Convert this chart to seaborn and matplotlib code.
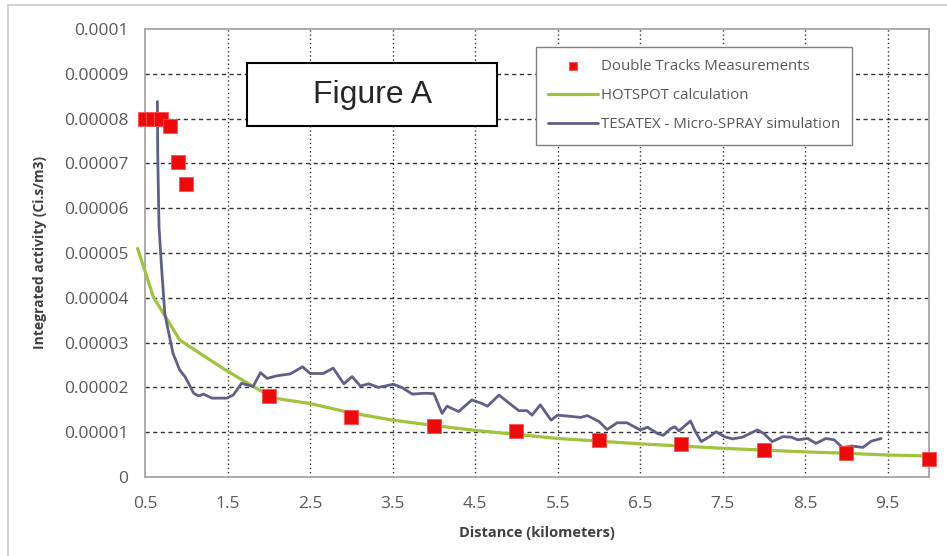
import matplotlib
matplotlib.use("Agg")
import matplotlib.pyplot as plt
import seaborn as sns
import pandas as pd
from matplotlib.patches import Rectangle

# measurements (Double Tracks)
meas_x = [0.5, 0.6, 0.7, 0.8, 0.9, 1.0, 2, 3, 4, 5, 6, 7, 8, 9, 10]
meas_y = [8.0, 8.0, 8.0, 7.83, 7.03, 6.54, 1.81, 1.33, 1.14, 1.03, 0.82, 0.73, 0.61, 0.54, 0.41]

# HOTSPOT calculation
hot_x = [0.41, 0.5, 0.6, 0.76, 0.92, 1.05, 1.29, 1.51, 1.81, 2.06, 2.5, 3.0, 3.5, 4.0,
         4.5, 5.0, 5.5, 6.0, 6.5, 7.0, 7.5, 8.0, 8.5, 9.0, 9.5, 10.0]
hot_y = [5.1, 4.6, 4.02, 3.54, 3.06, 2.9, 2.61, 2.35, 2.02, 1.76, 1.64, 1.43, 1.27, 1.15,
         1.04, 0.95, 0.86, 0.80, 0.74, 0.69, 0.64, 0.60, 0.56, 0.53, 0.49, 0.47]

# TESATEX - Micro-SPRAY simulation
tes_x = [0.65, 0.655, 0.67, 0.70, 0.74, 0.78, 0.84, 0.92, 0.985, 1.09, 1.15, 1.21, 1.31,
         1.49, 1.57, 1.67, 1.81, 1.90, 1.98, 2.10, 2.26, 2.41, 2.50, 2.66, 2.78, 2.91,
         3.01, 3.11, 3.21, 3.33, 3.51, 3.61, 3.74, 3.90, 4.00, 4.10, 4.16, 4.30, 4.46,
         4.57, 4.65, 4.79, 4.89, 5.03, 5.13, 5.19, 5.29, 5.42, 5.50, 5.62, 5.78, 5.86,
         6.00, 6.10, 6.22, 6.34, 6.50, 6.59, 6.71, 6.78, 6.87, 6.92, 6.97, 7.11, 7.17,
         7.24, 7.34, 7.42, 7.52, 7.62, 7.74, 7.82, 7.92, 8.00, 8.10, 8.23, 8.33, 8.41,
         8.53, 8.63, 8.75, 8.85, 8.95, 9.07, 9.20, 9.30, 9.42]
tes_y = [8.38, 7.14, 5.58, 4.7, 3.65, 3.28, 2.76, 2.39, 2.24, 1.87, 1.81, 1.85, 1.76,
         1.76, 1.83, 2.09, 2.02, 2.33, 2.20, 2.26, 2.30, 2.46, 2.31, 2.31, 2.43, 2.08,
         2.24, 2.03, 2.08, 2.00, 2.07, 2.00, 1.85, 1.87, 1.86, 1.42, 1.58, 1.46, 1.72,
         1.65, 1.58, 1.83, 1.68, 1.48, 1.48, 1.38, 1.61, 1.27, 1.38, 1.36, 1.33, 1.37,
         1.24, 1.06, 1.21, 1.21, 1.05, 1.11, 0.97, 0.93, 1.08, 1.12, 1.03, 1.25, 1.01,
         0.79, 0.90, 1.01, 0.90, 0.85, 0.89, 0.96, 1.05, 0.97, 0.79, 0.90, 0.89, 0.83,
         0.86, 0.75, 0.86, 0.83, 0.66, 0.69, 0.66, 0.80, 0.86]

x_ticks = [0.5, 1.5, 2.5, 3.5, 4.5, 5.5, 6.5, 7.5, 8.5, 9.5]
y_ticks = [0, 0.00001, 0.00002, 0.00003, 0.00004, 0.00005, 0.00006, 0.00007, 0.00008,
           0.00009, 0.0001]
y_labels = ["0", "0.00001", "0.00002", "0.00003", "0.00004", "0.00005", "0.00006",
            "0.00007", "0.00008", "0.00009", "0.0001"]

meas = pd.DataFrame({"x": meas_x, "y": [v * 1e-5 for v in meas_y]})
hot = pd.DataFrame({"x": hot_x, "y": [v * 1e-5 for v in hot_y]})
tes = pd.DataFrame({"x": tes_x, "y": [v * 1e-5 for v in tes_y]})

sns.set_style("white")
plt.rcParams["font.family"] = ["Open Sans", "DejaVu Sans"]

fig = plt.figure(figsize=(9.47, 5.56), dpi=100)
ax = fig.add_axes([0.1531, 0.1421, 0.8279, 0.8058])

# grid
for yt in y_ticks[1:-1]:
    ax.axhline(yt, color="#333333", lw=1, ls=(0, (3, 2.5)), zorder=0)
for xt in x_ticks[1:]:
    ax.axvline(xt, color="#333333", lw=1, ls=(0, (1, 2)), zorder=0)

green = "#9dc43a"
purple = "#5e6089"
red = "#ee0a0a"

sns.lineplot(data=hot, x="x", y="y", ax=ax, color=green, lw=2.3, sort=False,
             estimator=None, label="HOTSPOT calculation", clip_on=False, zorder=3)
sns.lineplot(data=tes, x="x", y="y", ax=ax, color=purple, lw=2.0, sort=False,
             estimator=None, label="TESATEX - Micro-SPRAY simulation", zorder=4)
sns.scatterplot(data=meas, x="x", y="y", ax=ax, marker="s", s=100, color=red,
                edgecolor="#ff5050", linewidth=0.6, label="Double Tracks Measurements",
                clip_on=False, zorder=5)

ax.set_xlim(0.5, 10)
ax.set_ylim(0, 0.0001)
ax.set_xticks(x_ticks)
ax.set_xticklabels([str(v) for v in x_ticks])
ax.set_yticks(y_ticks)
ax.set_yticklabels(y_labels)
ax.tick_params(axis="both", length=0, labelsize=12.5, labelcolor="#595959")
ax.tick_params(axis="x", pad=14)
ax.tick_params(axis="y", pad=12)

for s in ax.spines.values():
    s.set_color("#a6a6a6")
    s.set_linewidth(1.3)

ax.set_xlabel("Distance (kilometers)", fontsize=10.5, fontweight="bold",
              color="#404040", labelpad=10)
ax.set_ylabel("Integrated activity (Ci.s/m3)", fontsize=10, fontweight="bold",
              color="#404040", labelpad=12)

handles, labels = ax.get_legend_handles_labels()
order = [2, 0, 1]
leg = ax.legend([handles[i] for i in order], [labels[i] for i in order],
                loc="upper left", bbox_to_anchor=(536 / 947, 1 - 47 / 556),
                bbox_transform=fig.transFigure, fontsize=10.8, frameon=True,
                fancybox=False, edgecolor="#808080", framealpha=1,
                handlelength=3.3, handletextpad=0.2, labelspacing=0.95,
                borderpad=0.8, borderaxespad=0, markerscale=0.55)
leg.get_frame().set_linewidth(1.0)
for t in leg.get_texts():
    t.set_color("#595959")

# Figure A box
fig.patches.append(Rectangle((247 / 947, 1 - 126 / 556), 250 / 947, 63 / 556,
                             transform=fig.transFigure, fill=True, facecolor="white",
                             edgecolor="black", lw=1.5, zorder=10))
fig.text(373 / 947, 1 - 95 / 556, "Figure A", fontsize=23, ha="center", va="center",
         family="Liberation Sans", zorder=11)

# outer frame
fig.patches.append(Rectangle((8 / 947, -0.2), 1.5, 1.2 - 5 / 556, transform=fig.transFigure,
                             fill=False, edgecolor="#c8c8c8", lw=1.2, zorder=0))

fig.savefig("out.png", dpi=100)
